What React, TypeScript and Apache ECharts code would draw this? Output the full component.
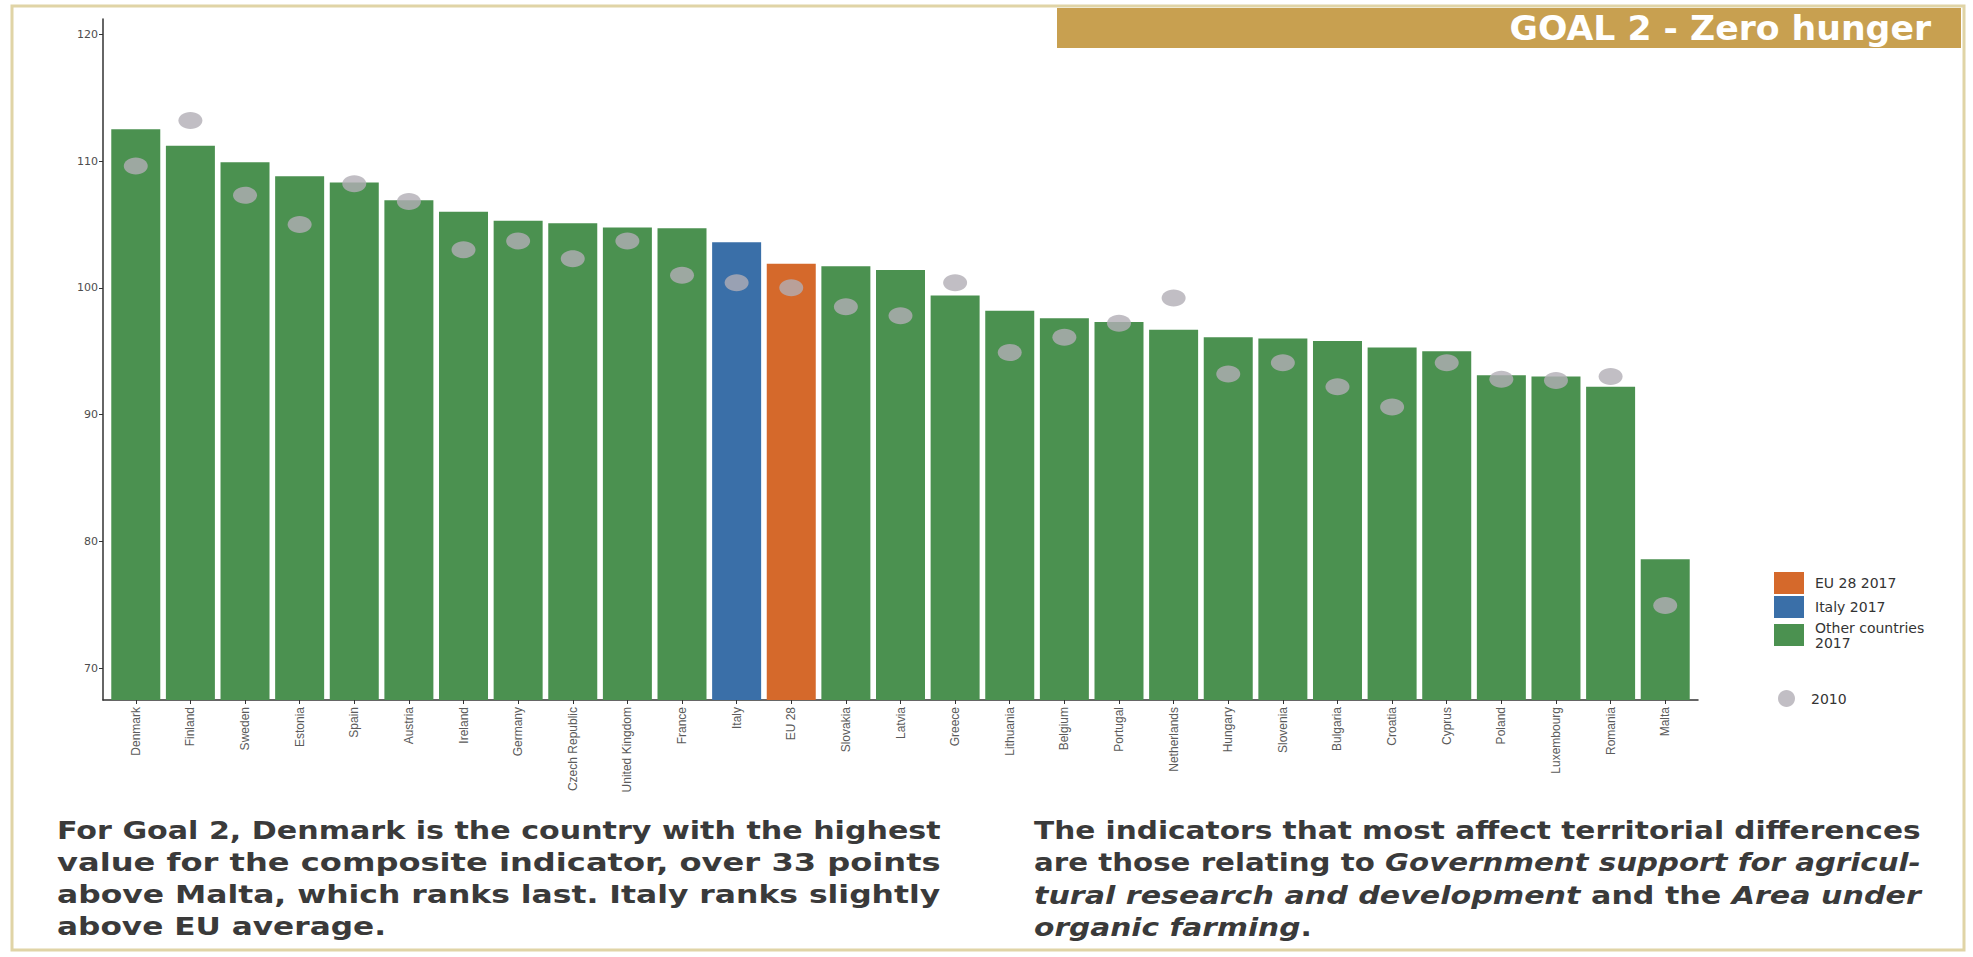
import React, { useEffect, useRef } from "react";
import * as echarts from "echarts";

const categories = [
  "Denmark", "Finland", "Sweden", "Estonia", "Spain", "Austria", "Ireland",
  "Germany", "Czech Republic", "United Kingdom", "France", "Italy", "EU 28",
  "Slovakia", "Latvia", "Greece", "Lithuania", "Belgium", "Portugal",
  "Netherlands", "Hungary", "Slovenia", "Bulgaria", "Croatia", "Cyprus",
  "Poland", "Luxembourg", "Romania", "Malta",
];

const values2017 = [
  112.5, 111.2, 109.9, 108.8, 108.3, 106.9, 106.0, 105.3, 105.1, 104.75,
  104.7, 103.6, 101.9, 101.7, 101.4, 99.4, 98.2, 97.6, 97.3, 96.7,
  96.1, 96.0, 95.8, 95.3, 95.0, 93.1, 93.0, 92.2, 78.6,
];

const values2010 = [
  109.6, 113.2, 107.3, 105.0, 108.2, 106.8, 103.0, 103.7, 102.3, 103.7,
  101.0, 100.4, 100.0, 98.5, 97.8, 100.4, 94.9, 96.1, 97.2, 99.2,
  93.2, 94.1, 92.2, 90.6, 94.1, 92.8, 92.7, 93.0, 74.95,
];

// group of each category: "eu", "italy" or "other"
const groups = categories.map((c) => (c === "EU 28" ? "eu" : c === "Italy" ? "italy" : "other"));

const yTicks = [70, 80, 90, 100, 110, 120];

const legendBars = ["EU 28 2017", "Italy 2017", "Other countries\n2017"];
const legendDots = "2010";

const titleText = "GOAL 2 - Zero hunger";

const leftParagraph = [
  [["n", "For Goal 2, Denmark is the country with the highest"]],
  [["n", "value for the composite indicator, over 33 points"]],
  [["n", "above Malta, which ranks last. Italy ranks slightly"]],
  [["n", "above EU average."]],
];
const rightParagraph = [
  [["n", "The indicators that most affect territorial differences"]],
  [["n", "are those relating to "], ["i", "Government support for agricul-"]],
  [["i", "tural research and development"], ["n", " and the "], ["i", "Area under"]],
  [["i", "organic farming"], ["n", "."]],
];

const ELLIPSE =
  "path://M0,50 C0,22.4 22.4,0 50,0 C77.6,0 100,22.4 100,50 C100,77.6 77.6,100 50,100 C22.4,100 0,77.6 0,50 Z";

const COLORS: Record<string, string> = {
  eu: "#d5692b",
  italy: "#3a6fa8",
  other: "#4b9150",
};

export default function App() {
  const ref = useRef<HTMLDivElement>(null);

  useEffect(() => {
    if (!ref.current) return;
    const chart = echarts.init(ref.current, null, { renderer: "svg" });
    const idx = categories.map((_, i) => i);

    const barSeries = (name: string, key: string) => ({
      type: "bar",
      name,
      data: idx.filter((i) => groups[i] === key).map((i) => [i, values2017[i]]),
      barWidth: 49,
      barGap: "-100%",
      itemStyle: { color: COLORS[key] },
      clip: true,
      z: 2,
    });

    const paraFont = "DejaVu Sans";
    const paraSize = 25;
    const rich = {
      n: { fontFamily: paraFont, fontSize: paraSize, fontWeight: "bold", fill: "#3a3a3a", color: "#3a3a3a" },
      i: { fontFamily: paraFont, fontSize: paraSize, fontWeight: "bold", fontStyle: "italic", fill: "#3a3a3a", color: "#3a3a3a" },
    };
    const canvas = document.createElement("canvas");
    const ctx = canvas.getContext("2d");
    const measure = (segs: string[][]) =>
      segs.reduce((w, [s, t]) => {
        if (!ctx) return w + t.length * paraSize * 0.62;
        ctx.font = `${s === "i" ? "italic " : ""}bold ${paraSize}px "${paraFont}"`;
        return w + ctx.measureText(t).width;
      }, 0);

    const lineY = [830, 862, 895, 927];
    const paraText = (lines: string[][][], x: number, target: number) => {
      const widths = lines.map((l) => measure(l));
      const scales = widths.map((w) => target / w);
      const full = scales.slice(0, lines.length - 1);
      const avg = full.reduce((a, b) => a + b, 0) / full.length;
      return lines.map((segs, k) => ({
        type: "text",
        x,
        y: lineY[k],
        scaleX: k === lines.length - 1 ? avg : scales[k],
        silent: true,
        style: {
          text: segs.map(([s, t]) => `{${s}|${t}}`).join(""),
          rich,
          verticalAlign: "middle",
          align: "left",
        },
      }));
    };

    const legendText = { fontSize: 14, color: "#333333", fontFamily: "DejaVu Sans", padding: [0, 0, 0, 6] };

    chart.setOption({
      animation: false,
      backgroundColor: "#ffffff",
      grid: { left: 103, top: 19, width: 1595, height: 681, containLabel: false },
      xAxis: {
        type: "value",
        min: -0.6,
        max: 28.6,
        axisLine: { show: true, onZero: false, lineStyle: { color: "#333333", width: 1.5 } },
        axisTick: { show: true, customValues: idx, length: 4, lineStyle: { color: "#333333" } },
        axisLabel: {
          customValues: idx,
          formatter: (v: number) => categories[Math.round(v)] ?? "",
          rotate: 90,
          fontSize: 12,
          color: "#5a5a5a",
          fontFamily: "Liberation Sans",
          margin: 7,
        },
        splitLine: { show: false },
      },
      yAxis: {
        type: "value",
        min: 67.5,
        max: 121.2,
        z: 5,
        axisLine: { show: true, onZero: false, lineStyle: { color: "#333333", width: 1.5 } },
        axisTick: { show: true, customValues: yTicks, length: 4, lineStyle: { color: "#333333" } },
        axisLabel: {
          customValues: yTicks,
          fontSize: 11,
          color: "#4d4d4d",
          fontFamily: "DejaVu Sans",
          margin: 5,
        },
        splitLine: { show: false },
      },
      legend: [
        {
          data: legendBars,
          orient: "vertical",
          left: 1769,
          top: 567,
          itemWidth: 30,
          itemHeight: 22,
          itemGap: 2,
          icon: "rect",
          selectedMode: false,
          textStyle: { ...legendText, lineHeight: 15 },
        },
        {
          data: [legendDots],
          orient: "vertical",
          left: 1773,
          top: 685,
          itemWidth: 27,
          itemHeight: 17,
          icon: ELLIPSE,
          selectedMode: false,
          textStyle: legendText,
        },
      ],
      series: [
        barSeries(legendBars[0], "eu"),
        barSeries(legendBars[1], "italy"),
        barSeries(legendBars[2], "other"),
        {
          type: "scatter",
          name: legendDots,
          data: idx.map((i) => [i, values2010[i]]),
          symbol: ELLIPSE,
          symbolSize: [24, 17],
          itemStyle: { color: "#b2aeb5" },
          z: 3,
        },
      ],
      graphic: [
        {
          type: "rect",
          silent: true,
          z: -10,
          shape: { x: 12, y: 6, width: 1952, height: 944 },
          style: { fill: "none", stroke: "#e0d4a6", lineWidth: 3 },
        },
        {
          type: "rect",
          silent: true,
          shape: { x: 1057, y: 8, width: 904, height: 40 },
          style: { fill: "#c8a050" },
        },
        {
          type: "text",
          silent: true,
          x: 1931,
          y: 29,
          scaleX: 1.05,
          style: {
            text: titleText,
            fill: "#ffffff",
            fontFamily: "DejaVu Sans",
            fontWeight: "bold",
            fontSize: 33,
            align: "right",
            verticalAlign: "middle",
          },
        },
        ...paraText(leftParagraph, 57, 884),
        ...paraText(rightParagraph, 1034, 887),
      ],
    });

    return () => chart.dispose();
  }, []);

  return (
    <div
      ref={ref}
      style={{ position: "fixed", left: 0, top: 0, width: 1973, height: 957, background: "#ffffff" }}
    />
  );
}
